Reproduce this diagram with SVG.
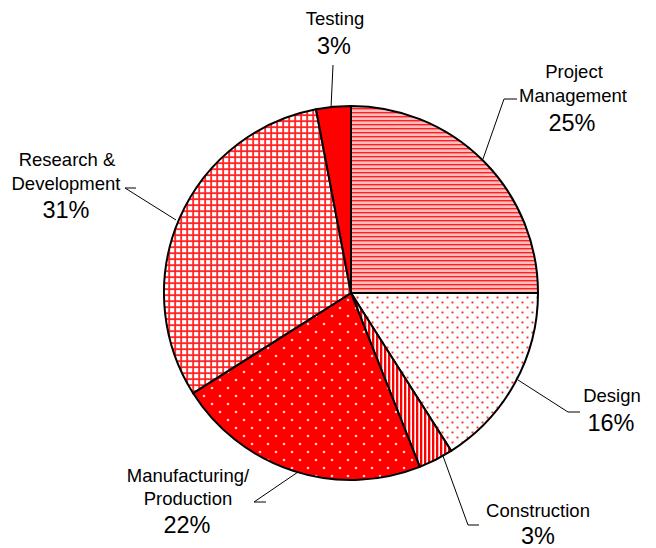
<svg xmlns="http://www.w3.org/2000/svg" width="656" height="548" viewBox="0 0 656 548">
<style>
.slice{stroke:#000;stroke-width:2;stroke-linejoin:round}
.lbl{font-family:"Liberation Sans",Arial,sans-serif;font-size:18.5px;fill:#000;text-anchor:middle}
.pct{font-family:"Liberation Sans",Arial,sans-serif;font-size:23.5px;fill:#000;text-anchor:middle}
.lead{fill:none;stroke:#000;stroke-width:1}
</style>
<defs>
<pattern id="pHoriz" width="4" height="4" patternUnits="userSpaceOnUse">
<rect width="4" height="4" fill="#ffe4e4"/>
<rect y="0" width="4" height="1.6" fill="#ff2020"/>
<rect y="1.6" width="4" height="0.9" fill="#ff9a9a"/>
<rect y="3.2" width="4" height="0.8" fill="#ffb4b4"/>
</pattern>
<pattern id="pDots" width="10" height="10" patternUnits="userSpaceOnUse">
<rect width="10" height="10" fill="#fff"/>
<circle cx="2.5" cy="2.5" r="1.4" fill="#ffaaaa"/>
<circle cx="2.5" cy="2.5" r="0.8" fill="#ff2a2a"/>
<circle cx="7.5" cy="7.5" r="1.4" fill="#ffaaaa"/>
<circle cx="7.5" cy="7.5" r="0.8" fill="#ff2a2a"/>
</pattern>
<pattern id="pVert" width="4" height="4" patternUnits="userSpaceOnUse">
<rect width="4" height="4" fill="#fff"/>
<rect x="0" width="2.2" height="4" fill="#ff0000"/>
<rect x="2.2" width="0.6" height="4" fill="#ff9090"/>
</pattern>
<pattern id="pRedDots" width="16" height="16" patternUnits="userSpaceOnUse">
<rect width="16" height="16" fill="#ff0000"/>
<circle cx="4" cy="4" r="1.3" fill="#ffb0b0"/>
<circle cx="4" cy="4" r="0.7" fill="#fff"/>
<circle cx="12" cy="12" r="1.3" fill="#ffb0b0"/>
<circle cx="12" cy="12" r="0.7" fill="#fff"/>
</pattern>
<pattern id="pGrid" width="6" height="6" patternUnits="userSpaceOnUse">
<rect width="6" height="6" fill="#fff"/>
<rect x="0" y="0" width="2.4" height="6" fill="#ffbcbc"/>
<rect x="0" y="0" width="6" height="2.4" fill="#ffbcbc"/>
<rect x="0.4" y="0" width="1.5" height="6" fill="#ff1a1a"/>
<rect x="0" y="0.4" width="6" height="1.5" fill="#ff1a1a"/>
</pattern>
</defs>

<g id="connectors">
<polyline class="lead" points="333,65 331,108"/>
<polyline class="lead" points="517,99 504,99 483,159"/>
<polyline class="lead" points="136,188 125,188 176,220"/>
<polyline class="lead" points="580,412 568,412 518,380"/>
<polyline class="lead" points="479,525 468,525 443,456"/>
<polyline class="lead" points="266,502 254,502 298,472"/>
</g>

<g id="project-management">
<path class="slice" fill="url(#pHoriz)" d="M351,293 L351,106 A187,187 0 0 1 538,293 Z"/>
<text class="lbl" x="574" y="78">Project</text>
<text class="lbl" x="573" y="102">Management</text>
<text class="pct" x="572" y="131">25%</text>
</g>

<g id="design">
<path class="slice" fill="url(#pDots)" d="M351,293 L538,293 A187,187 0 0 1 451.2,450.9 Z"/>
<text class="lbl" x="612" y="402">Design</text>
<text class="pct" x="611" y="431">16%</text>
</g>

<g id="construction">
<path class="slice" fill="url(#pVert)" d="M351,293 L451.2,450.9 A187,187 0 0 1 419.8,466.9 Z"/>
<text class="lbl" x="538" y="517">Construction</text>
<text class="pct" x="538" y="544">3%</text>
</g>

<g id="manufacturing">
<path class="slice" fill="url(#pRedDots)" d="M351,293 L419.8,466.9 A187,187 0 0 1 193.1,393.2 Z"/>
<text class="lbl" x="188" y="482">Manufacturing/</text>
<text class="lbl" x="188" y="505">Production</text>
<text class="pct" x="187" y="533">22%</text>
</g>

<g id="research-development">
<path class="slice" fill="url(#pGrid)" d="M351,293 L193.1,393.2 A187,187 0 0 1 316,109.3 Z"/>
<text class="lbl" x="67" y="166">Research &amp;</text>
<text class="lbl" x="66" y="190">Development</text>
<text class="pct" x="66" y="218">31%</text>
</g>

<g id="testing">
<path class="slice" fill="#ff0000" d="M351,293 L316,109.3 A187,187 0 0 1 351,106 Z"/>
<text class="lbl" x="335" y="25">Testing</text>
<text class="pct" x="334" y="54">3%</text>
</g>
</svg>
